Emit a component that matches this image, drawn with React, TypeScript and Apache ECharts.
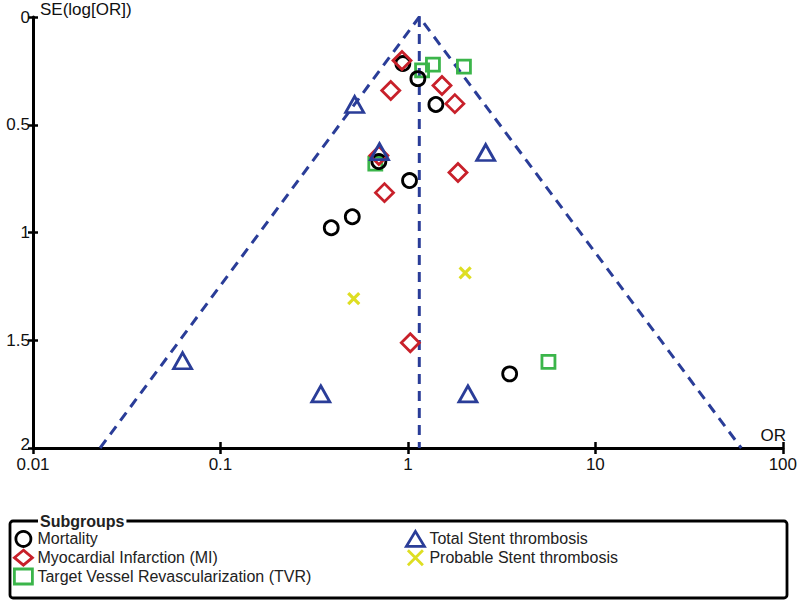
import React, { useEffect, useRef } from "react";
import * as echarts from "echarts";

// ---- data (OR, SE(log OR)) ----
const mortalityOR = [0.94, 1.13, 1.41, 1.02, 0.505, 0.39, 0.7, 3.49];
const mortalitySE = [0.216, 0.286, 0.406, 0.759, 0.927, 0.978, 0.671, 1.656];
const miOR = [0.93, 0.81, 1.52, 1.78, 1.85, 0.75, 0.7, 1.03];
const miSE = [0.202, 0.341, 0.318, 0.402, 0.722, 0.815, 0.643, 1.512];
const tvrOR = [1.19, 1.36, 1.99, 0.67, 5.62];
const tvrSE = [0.248, 0.221, 0.23, 0.68, 1.6];
const stOR = [0.52, 0.705, 2.6, 0.0628, 0.343, 2.09];
const stSE = [0.406, 0.625, 0.629, 1.595, 1.749, 1.749];
const pstOR = [0.514, 2.02];
const pstSE = [1.307, 1.187];

// funnel (pooled estimate and 95% limits)
const pooledOR = [1.15, 1.15];
const pooledSE = [0, 2];
const funnelOR = [0.0228, 1.15, 60];
const funnelSE = [2, 0, 2];

const xTickLabels = ["0.01", "0.1", "1", "10", "100"];
const yTickLabels = ["0", "0.5", "1", "1.5", "2"];

const legendLeft = ["Mortality", "Myocardial Infarction (MI)", "Target Vessel Revascularization (TVR)"];
const legendRight = ["Total Stent thrombosis", "Probable Stent thrombosis"];

const zip = (xs: number[], ys: number[]) => xs.map((x, i) => [x, ys[i]]);

const FONT = "Liberation Sans, Arial, sans-serif";
const BLUE = "#2a3d98";

export default function App() {
  const ref = useRef<HTMLDivElement>(null);
  useEffect(() => {
    document.body.style.margin = "0";
    const chart = echarts.init(ref.current!, null, { renderer: "svg" });
    const scatter = (name: string, data: number[][], symbol: string, size: any, color: string, bw: number, z: number) => ({
      type: "scatter",
      name,
      data,
      symbol,
      symbolSize: size,
      z,
      itemStyle: { color: "rgba(0,0,0,0)", borderColor: color, borderWidth: bw, opacity: 1 },
      emphasis: { disabled: true },
    });
    const dashed = (data: number[][]) => ({
      type: "line",
      data,
      symbol: "none",
      z: 1,
      silent: true,
      lineStyle: { color: BLUE, width: 3, type: [10, 7] },
    });
    const legendCommon = {
      orient: "vertical",
      itemWidth: 18,
      itemHeight: 15,
      itemGap: 1,
      padding: 0,
      selectedMode: false,
      textStyle: { fontFamily: FONT, fontSize: 16, lineHeight: 15, color: "#222" },
      itemStyle: { borderWidth: 2.8 },
    };
    const xBase = {
      type: "log",
      logBase: 10,
      min: 0.01,
      max: 100,
      position: "bottom",
      minorTick: { show: false },
      splitLine: { show: false },
    };
    const yBase = {
      type: "value",
      min: 0,
      max: 2,
      interval: 0.5,
      inverse: true,
      position: "left",
      splitLine: { show: false },
    };
    chart.setOption({
      animation: false,
      backgroundColor: "#fff",
      grid: { left: 33, right: 13, top: 17, bottom: 156 },
      xAxis: [
        {
          ...xBase,
          axisLine: { onZero: false, lineStyle: { color: "#000", width: 3 } },
          axisTick: { show: true, length: 6, lineStyle: { color: "#000", width: 2.5 } },
          axisLabel: {
            formatter: (_v: number, i: number) => xTickLabels[i],
            fontFamily: FONT,
            fontSize: 17,
            lineHeight: 15,
            color: "#111",
            margin: 9,
          },
        },
        {
          ...xBase,
          axisLine: { show: false, onZero: false },
          axisTick: { show: true, inside: true, length: 6, lineStyle: { color: "#000", width: 2.5 } },
          axisLabel: { show: false },
        },
      ],
      yAxis: [
        {
          ...yBase,
          axisLine: { show: true, onZero: false, lineStyle: { color: "#000", width: 3 } },
          axisTick: { show: true, length: 5, lineStyle: { color: "#000", width: 2.5 } },
          axisLabel: {
            formatter: (_v: number, i: number) =>
              i === yTickLabels.length - 1 ? "{up|" + yTickLabels[i] + "}" : yTickLabels[i],
            fontFamily: FONT,
            fontSize: 17,
            lineHeight: 14,
            color: "#111",
            margin: 3,
            rich: {
              up: { fontFamily: FONT, fontSize: 17, lineHeight: 14, color: "#111", padding: [0, 0, 8, 0] },
            },
          },
        },
        {
          ...yBase,
          axisLine: { show: false, onZero: false },
          axisTick: { show: true, inside: true, length: 5, lineStyle: { color: "#000", width: 2.5 } },
          axisLabel: { show: false },
        },
      ],
      legend: [
        { ...legendCommon, left: 13, top: 530, data: legendLeft },
        { ...legendCommon, left: 405, top: 530, data: legendRight },
      ],
      graphic: [
        {
          type: "rect",
          shape: { x: 10, y: 521, width: 777, height: 77, r: 3 },
          style: { fill: "none", stroke: "#000", lineWidth: 2.8 },
          silent: true,
        },
        {
          type: "text",
          x: 38,
          y: 521,
          style: {
            text: "Subgroups",
            fontFamily: FONT,
            fontSize: 16,
            fontWeight: "bold",
            fill: "#222",
            verticalAlign: "middle",
            backgroundColor: "#fff",
            padding: [0, 2],
          },
        },
        {
          type: "text",
          x: 40,
          y: 9,
          style: { text: "SE(log[OR])", fontFamily: FONT, fontSize: 17, fill: "#111", verticalAlign: "middle" },
        },
        {
          type: "text",
          x: 786,
          y: 435,
          style: { text: "OR", fontFamily: FONT, fontSize: 17, fill: "#111", align: "right", verticalAlign: "middle" },
        },
      ],
      series: [
        dashed(zip(pooledOR, pooledSE)),
        dashed(zip(funnelOR, funnelSE)),
        scatter("Target Vessel Revascularization (TVR)", zip(tvrOR, tvrSE), "rect", 13, "#3bb54a", 2.8, 2),
        scatter("Mortality", zip(mortalityOR, mortalitySE), "circle", 14, "#000", 2.8, 3),
        scatter("Myocardial Infarction (MI)", zip(miOR, miSE), "diamond", 18, "#c8202a", 2.8, 4),
        scatter("Total Stent thrombosis", zip(stOR, stSE), "triangle", [18, 16], "#2a3d98", 2.8, 5),
        scatter("Probable Stent thrombosis", zip(pstOR, pstSE), "path://M0,0L10,10M10,0L0,10", 11, "#dede22", 3.2, 6),
      ],
    });
    return () => chart.dispose();
  }, []);
  return <div ref={ref} style={{ width: 800, height: 604 }} />;
}
